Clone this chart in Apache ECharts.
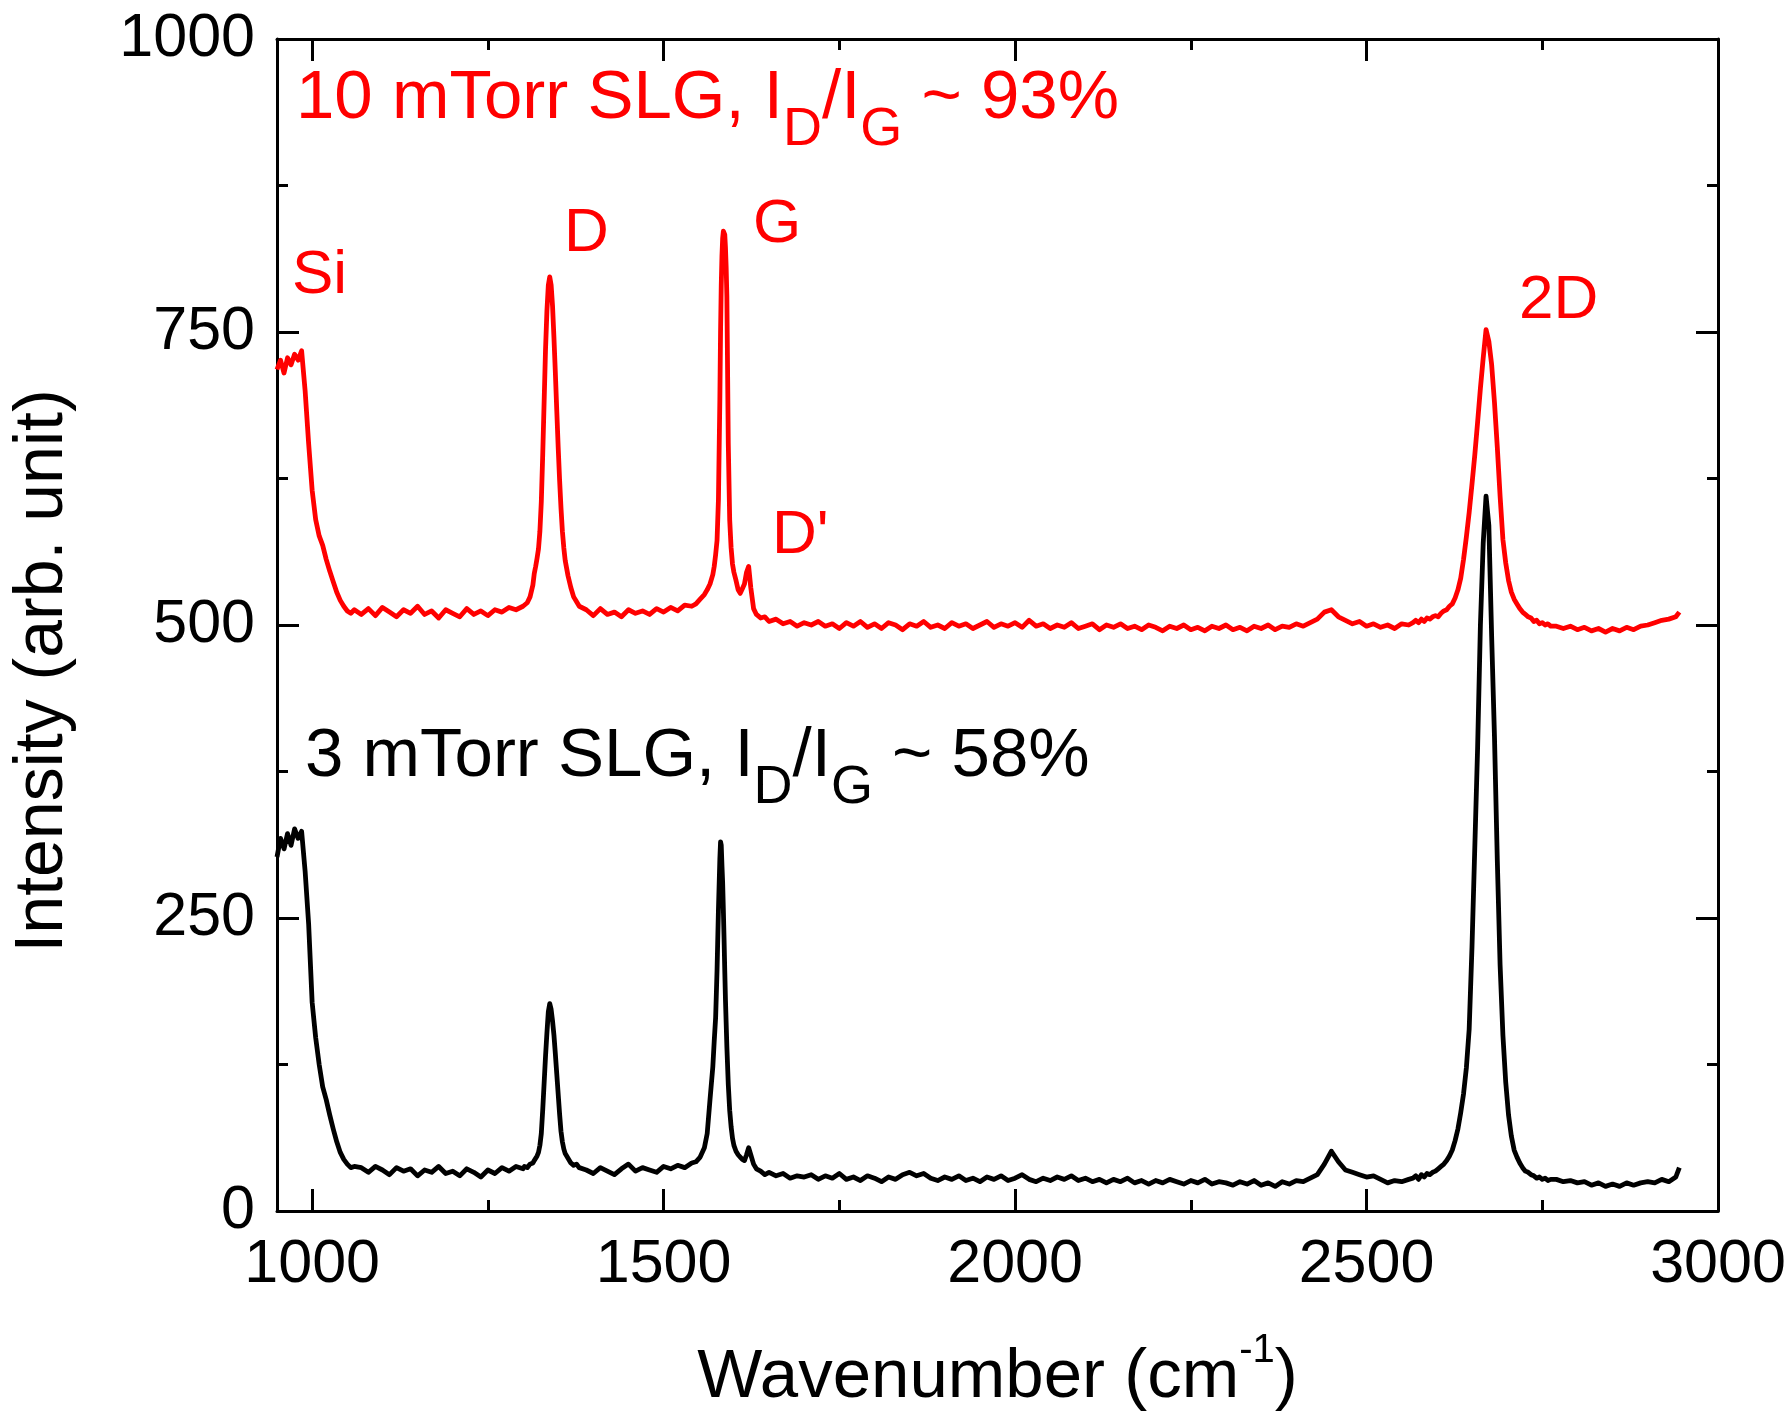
<!DOCTYPE html>
<html>
<head>
<meta charset="utf-8">
<script src="https://cdn.jsdelivr.net/npm/echarts@6/dist/echarts.min.js"></script>
<style>
  html, body { margin: 0; padding: 0; background: #ffffff; }
  #chart { width: 1792px; height: 1414px; }
</style>
</head>
<body>
<div id="chart"></div>
<script>
// Raman spectra of single-layer graphene grown at two pressures.
// Shared wavenumber grid (cm^-1); denser around the D, G, D' and 2D bands.
const wavenumber = [
  950, 955, 960, 965, 970, 975, 980, 985, 990, 995, 1000, 1005, 1010, 1015, 1020, 1025, 1030, 1035, 1040, 1045, 1050, 1055, 1060,
  1070, 1080, 1090, 1100, 1110, 1120, 1130, 1140, 1150, 1160, 1170, 1180, 1190, 1200, 1210, 1220, 1230, 1240, 1250, 1260, 1270, 1280, 1290, 1300,
  1302, 1306, 1310, 1314, 1316, 1318, 1320, 1322, 1324, 1326, 1328, 1330, 1332, 1334, 1336, 1338, 1340, 1342, 1344, 1346, 1348, 1350, 1352, 1354, 1356, 1358, 1360, 1364, 1368, 1372, 1376, 1380,
  1390, 1400, 1410, 1420, 1430, 1440, 1450, 1460, 1470, 1480, 1490, 1500, 1510, 1520, 1530, 1540,
  1546, 1552, 1558, 1562, 1566, 1570, 1572, 1574, 1576, 1578, 1580, 1581, 1582, 1583, 1584, 1585, 1586, 1587, 1588, 1589, 1590, 1592, 1594, 1596, 1598, 1600, 1603, 1606, 1609, 1612, 1615, 1618, 1621, 1624, 1628, 1632, 1638, 1644, 1650, 1660, 1670, 1680, 1690, 1700,
  1710, 1720, 1730, 1740, 1750, 1760, 1770, 1780, 1790, 1800,
  1810, 1820, 1830, 1840, 1850, 1860, 1870, 1880, 1890, 1900,
  1910, 1920, 1930, 1940, 1950, 1960, 1970, 1980, 1990, 2000,
  2010, 2020, 2030, 2040, 2050, 2060, 2070, 2080, 2090, 2100,
  2110, 2120, 2130, 2140, 2150, 2160, 2170, 2180, 2190, 2200,
  2210, 2220, 2230, 2240, 2250, 2260, 2270, 2280, 2290, 2300,
  2310, 2320, 2330, 2340, 2350, 2360, 2370, 2380, 2390, 2400,
  2410, 2420, 2430, 2440, 2450, 2460, 2470, 2480, 2490, 2500,
  2510, 2520, 2530, 2540, 2550, 2560,
  2566, 2570, 2574, 2578, 2582, 2586, 2590, 2594, 2598, 2602,
  2606, 2610, 2614, 2618, 2622, 2626, 2630, 2634, 2638, 2642,
  2646, 2650, 2654, 2658, 2662, 2666, 2670, 2674, 2678, 2682,
  2686, 2690, 2694, 2698, 2702, 2706, 2710, 2714, 2718, 2722,
  2726, 2730, 2734, 2738, 2742, 2746, 2750, 2754, 2758, 2762,
  2770, 2780, 2790, 2800, 2810, 2820, 2830, 2840, 2850, 2860, 2870, 2880, 2890, 2900, 2910, 2920, 2930, 2940, 2945
];

// 10 mTorr sample (offset spectrum, red)
const intensity10mTorr = [
  718, 726, 715, 728, 722, 731, 726, 734, 700, 655, 615, 590, 576, 568, 556, 546, 537, 528, 521, 516, 512, 510, 513,
  509, 514, 508, 515, 511, 507, 513, 510, 516, 509, 512, 506, 513, 510, 507, 514, 509, 512, 508, 513, 511, 515, 513, 516,
  516, 519, 524, 534, 544, 550, 557, 565, 580, 605, 645, 690, 735, 768, 790, 797, 790, 772, 745, 715, 683, 652, 624, 600, 580, 566, 555, 542, 532, 524, 520, 516,
  513, 508, 514, 509, 511, 507, 513, 510, 512, 509, 514, 511, 515, 512, 517, 516,
  518, 522, 526, 530, 535, 543, 550, 560, 572, 607, 692, 750, 790, 815, 830, 836, 837, 833, 822, 805, 780, 655, 590, 566, 552, 545, 538, 530, 527, 531, 535, 545, 550, 532, 514, 509, 506, 507, 503, 505, 501, 503, 499, 502,
  500, 503, 499, 501, 497, 502, 499, 503, 498, 501,
  497, 502, 500, 496, 501, 499, 503, 498, 500, 497,
  502, 499, 501, 497, 500, 503, 498, 501, 499, 502,
  498, 504, 499, 501, 497, 500, 498, 502, 497, 499,
  501, 496, 500, 498, 501, 497, 499, 496, 500, 498,
  495, 499, 497, 500, 496, 498, 495, 499, 497, 500,
  496, 498, 495, 499, 497, 500, 496, 499, 498, 501,
  499, 502, 505, 511, 513, 507, 504, 501, 503, 499,
  501, 498, 500, 497, 501, 500,
  502, 504, 502, 505, 503, 506, 505, 507, 508, 507,
  510, 512, 513, 516, 518, 523, 530, 540, 556, 575,
  596, 620, 645, 673, 702, 728, 752, 742, 722, 690,
  652, 610, 573, 553, 538, 528, 522, 518, 514, 511,
  509, 507, 506, 503, 504, 501, 502, 500, 501, 499,
  499, 497, 499, 496, 498, 495, 497, 494, 497, 495, 498, 496, 499, 500, 502, 504, 505, 507, 511
];

// 3 mTorr sample (black)
const intensity3mTorr = [
  302, 318, 309, 322, 312, 326, 318, 324, 290, 245, 178, 148, 125, 106, 95, 82, 70, 59, 50, 44, 40, 37, 38,
  37, 33, 38, 35, 31, 37, 34, 36, 30, 35, 33, 38, 32, 34, 30, 36, 33, 29, 35, 32, 37, 34, 38, 36,
  38, 37, 40, 41, 43, 45, 47, 50, 56, 66, 86, 109, 132, 152, 170, 177, 172, 162, 150, 134, 117, 100, 83, 68, 59, 53, 49, 45, 41, 39, 40, 37,
  35, 32, 37, 34, 31, 36, 40, 34, 37, 35, 33, 38, 36, 39, 37, 41,
  42, 46, 54, 66, 95, 123, 145, 165, 205, 257, 300, 315, 312, 295, 280, 257, 232, 205, 180, 160, 140, 108, 86, 72, 62, 56, 51, 48, 46, 44, 43, 48, 54, 48, 40, 36, 34, 31, 33, 30, 32, 28, 30, 29,
  31, 27, 30, 28, 32, 27, 29, 26, 30, 28,
  25, 29, 27, 31, 33, 30, 32, 28, 26, 29,
  27, 30, 26, 28, 25, 29, 27, 30, 26, 28,
  31, 27, 25, 28, 26, 29, 27, 30, 26, 28,
  25, 27, 24, 27, 25, 28, 24, 26, 23, 26,
  24, 27, 25, 23, 26, 24, 27, 23, 25, 24,
  22, 25, 23, 26, 22, 24, 21, 25, 23, 26,
  25, 28, 31, 40, 51, 42, 35, 33, 31, 29,
  30, 27, 24, 26, 25, 27,
  28, 30, 27, 31, 29, 32, 31, 33, 34, 36,
  38, 40, 43, 47, 52, 60, 70, 84, 100, 122,
  155, 225, 310, 395, 500, 570, 610, 585, 490, 405,
  300, 210, 150, 110, 82, 64, 52, 46, 41, 37,
  34, 33, 31, 30, 28, 29, 27, 28, 26, 27,
  27, 25, 26, 24, 25, 22, 24, 21, 23, 21, 24, 22, 24, 25, 24, 27, 25, 29, 37
];

// Axis ticks
const xMajorTicks = [1000, 1500, 2000, 2500, 3000];
const xMinorTicks = [1250, 1750, 2250, 2750];
const yTickStep = 250;

// Text
const xTitle = ['Wavenumber (cm', '-1', ')'];
const yTitle = 'Intensity (arb. unit)';
const redCaption = ['10 mTorr SLG, I', 'D', '/I', 'G', ' ~ 93%'];
const blackCaption = ['3 mTorr SLG, I', 'D', '/I', 'G', ' ~ 58%'];
const bandNames = ['Si', 'D', 'G', "D'", '2D'];

const FONT = '"Liberation Sans", Arial, Helvetica, sans-serif';
const RED = '#ff0000';
const BLACK = '#000000';

const measureCtx = document.createElement('canvas').getContext('2d');
function textWidth(str, size) {
  measureCtx.font = size + 'px ' + FONT;
  return measureCtx.measureText(str).width;
}
// distance from the alphabetic baseline up to the canvas "middle" baseline
const MIDDLE = 0.3465;

// Lay out a run of text pieces on one baseline; each piece is [text, size, baselineShift]
function textRun(pieces, x, baseline, color, anchor) {
  const total = pieces.reduce((s, p) => s + textWidth(p[0], p[1]), 0);
  let cx = anchor === 'center' ? x - total / 2 : x;
  return pieces.map(p => {
    const el = {
      type: 'text', silent: true, z: 10,
      style: {
        x: cx, y: baseline + p[2] - MIDDLE * p[1],
        text: p[0], fontSize: p[1], fontFamily: FONT, fill: color,
        align: 'left', verticalAlign: 'middle'
      }
    };
    cx += textWidth(p[0], p[1]);
    return el;
  });
}

function caption(parts, x, baseline, color) {
  return textRun([
    [parts[0], 69, 0], [parts[1], 54, 26], [parts[2], 69, 0], [parts[3], 54, 26], [parts[4], 69, 0]
  ], x, baseline, color, 'left');
}

const bandLabelPos = [[292, 297], [564, 255], [753, 246], [772, 557], [1519, 322]];

const graphics = []
  .concat(caption(redCaption, 296, 123, RED))
  .concat(caption(blackCaption, 305, 781, BLACK))
  .concat(textRun([[xTitle[0], 69, 0], [xTitle[1], 40, -37], [xTitle[2], 69, 0]], 997.5, 1402, BLACK, 'center'))
  .concat(bandNames.map((t, i) => textRun([[t, 62, 0]], bandLabelPos[i][0], bandLabelPos[i][1], RED, 'left')[0]));

graphics.push({
  type: 'text', silent: true, z: 10,
  x: 43, y: 671, rotation: Math.PI / 2,
  style: { text: yTitle, fontSize: 68, fontFamily: FONT, fill: BLACK, align: 'center', verticalAlign: 'middle' }
});

const axisLineStyle = { color: BLACK, width: 3 };
const tickStyle = { color: BLACK, width: 3 };
const plainNumber = v => String(v);
const xBase = { type: 'value', min: 950, max: 3000, splitLine: { show: false }, splitArea: { show: false } };

const xAxes = [
  Object.assign({}, xBase, {
    position: 'bottom',
    axisLine: { show: true, onZero: false, lineStyle: axisLineStyle },
    axisTick: { show: true, inside: true, length: 22, lineStyle: tickStyle, customValues: xMajorTicks },
    axisLabel: { show: true, customValues: xMajorTicks, formatter: plainNumber, fontSize: 61, fontFamily: FONT, color: BLACK, margin: 24 }
  }),
  Object.assign({}, xBase, {
    position: 'bottom',
    axisLine: { show: false, onZero: false },
    axisTick: { show: true, inside: true, length: 11, lineStyle: tickStyle, customValues: xMinorTicks },
    axisLabel: { show: false }
  }),
  Object.assign({}, xBase, {
    position: 'top',
    axisLine: { show: true, onZero: false, lineStyle: axisLineStyle },
    axisTick: { show: true, inside: true, length: 22, lineStyle: tickStyle, customValues: xMajorTicks },
    axisLabel: { show: false }
  }),
  Object.assign({}, xBase, {
    position: 'top',
    axisLine: { show: false, onZero: false },
    axisTick: { show: true, inside: true, length: 11, lineStyle: tickStyle, customValues: xMinorTicks },
    axisLabel: { show: false }
  })
];

const yBase = {
  type: 'value', min: 0, max: 1000, interval: yTickStep,
  splitLine: { show: false },
  axisLine: { show: true, onZero: false, lineStyle: axisLineStyle },
  axisTick: { show: true, inside: true, length: 22, lineStyle: tickStyle },
  minorTick: { show: true, splitNumber: 2, length: 11, lineStyle: tickStyle }
};
const yAxes = [
  Object.assign({}, yBase, {
    position: 'left',
    axisLabel: { show: true, formatter: plainNumber, fontSize: 61, fontFamily: FONT, color: BLACK, margin: 22 }
  }),
  Object.assign({}, yBase, { position: 'right', axisLabel: { show: false } })
];

function pairs(values) {
  return wavenumber.map((w, i) => [w, values[i]]);
}

const chart = echarts.init(document.getElementById('chart'), null, { renderer: 'canvas' });
chart.setOption({
  backgroundColor: '#ffffff',
  animation: false,
  grid: { left: 277, right: 74, top: 39, bottom: 203, containLabel: false, outerBoundsMode: 'none' },
  xAxis: xAxes,
  yAxis: yAxes,
  series: [
    {
      type: 'line', name: '3 mTorr SLG', xAxisIndex: 0, yAxisIndex: 0,
      data: pairs(intensity3mTorr), showSymbol: false, symbol: 'none',
      lineStyle: { color: BLACK, width: 4.8, join: 'round' }, itemStyle: { color: BLACK }, z: 3
    },
    {
      type: 'line', name: '10 mTorr SLG', xAxisIndex: 0, yAxisIndex: 0,
      data: pairs(intensity10mTorr), showSymbol: false, symbol: 'none',
      lineStyle: { color: RED, width: 4.8, join: 'round' }, itemStyle: { color: RED }, z: 4
    }
  ],
  graphic: graphics
});
</script>
</body>
</html>
